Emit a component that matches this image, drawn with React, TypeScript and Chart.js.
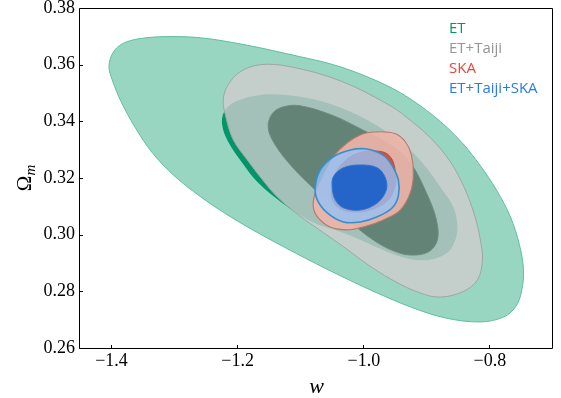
import React, { useEffect, useRef } from 'react';
import { Chart, registerables } from 'chart.js';

Chart.register(...registerables);

// ---- axes ----
const X_RANGE = [-1.45, -0.7];
const Y_RANGE = [0.26, 0.38];
const X_TICKS = [-1.4, -1.2, -1.0, -0.8];
const Y_TICKS = [0.26, 0.28, 0.3, 0.32, 0.34, 0.36, 0.38];

// ---- legend ----
const LEGEND_LABELS = ['ET', 'ET+Taiji', 'SKA', 'ET+Taiji+SKA'];
const LEGEND_COLORS = ['#009966', '#959595', '#E5483A', '#2A7BE4'];

// ---- contours (w, Omega_m) ----
const ET_OUTER_W = [-1.3151, -1.2595, -1.1881, -1.1008, -1.0484, -0.9944, -0.9421, -0.8897, -0.8468, -0.8151, -0.7897, -0.7675, -0.7532, -0.7468, -0.75, -0.7595, -0.7786, -0.8151, -0.8706, -0.9262, -0.9786, -1.0214, -1.077, -1.1294, -1.1802, -1.2198, -1.2595, -1.2992, -1.3357, -1.3627, -1.3849, -1.3992, -1.404, -1.4008, -1.3913, -1.3754, -1.3516];
const ET_OUTER_OM = [0.3699, 0.3695, 0.367, 0.3628, 0.36, 0.3557, 0.3501, 0.342, 0.3331, 0.3243, 0.3158, 0.3063, 0.2964, 0.2876, 0.2798, 0.2745, 0.2709, 0.2692, 0.2706, 0.2745, 0.2794, 0.2838, 0.2899, 0.296, 0.3022, 0.3075, 0.3135, 0.3205, 0.329, 0.3379, 0.347, 0.3548, 0.3589, 0.3628, 0.366, 0.3681, 0.3693];

const ET_INNER_W = [-1.1611, -1.1008, -1.0484, -0.9944, -0.9421, -0.9071, -0.8754, -0.8579, -0.8516, -0.8548, -0.8675, -0.8976, -0.9341, -0.977, -1.0087, -1.0373, -1.0817, -1.1294, -1.1675, -1.1929, -1.2151, -1.2246, -1.2214, -1.204];
const ET_INNER_OM = [0.3494, 0.3487, 0.3458, 0.3405, 0.3328, 0.3254, 0.3158, 0.3098, 0.3034, 0.2981, 0.2936, 0.2911, 0.2918, 0.2953, 0.2985, 0.301, 0.3045, 0.3112, 0.3183, 0.3254, 0.3328, 0.3388, 0.3434, 0.3469];

const ETT_OUTER_W = [-1.1643, -1.1167, -1.0373, -0.9579, -0.923, -0.8913, -0.8627, -0.8405, -0.8246, -0.8151, -0.8119, -0.8198, -0.8437, -0.8833, -0.923, -0.9579, -0.9929, -1.0294, -1.0659, -1.104, -1.1357, -1.1579, -1.1849, -1.2071, -1.2183, -1.223, -1.2151, -1.196];
const ETT_OUTER_OM = [0.36, 0.3593, 0.3543, 0.3455, 0.3398, 0.3335, 0.3257, 0.3165, 0.307, 0.2981, 0.2911, 0.284, 0.2798, 0.278, 0.2805, 0.2844, 0.2893, 0.2953, 0.301, 0.307, 0.313, 0.3186, 0.3264, 0.3335, 0.3412, 0.3476, 0.3529, 0.3575];

const ETT_INNER_W = [-1.1008, -1.0484, -1.0056, -0.9579, -0.9262, -0.8992, -0.8849, -0.8833, -0.8976, -0.9262, -0.9532, -0.9849, -1.0214, -1.0452, -1.077, -1.1135, -1.1405, -1.1516, -1.1452, -1.1278];
const ETT_INNER_OM = [0.3455, 0.342, 0.3374, 0.3317, 0.3254, 0.314, 0.3052, 0.2981, 0.2939, 0.2928, 0.2943, 0.2981, 0.3045, 0.3098, 0.3158, 0.3239, 0.3317, 0.3377, 0.3427, 0.3451];

const SKA_OUTER_W = [-0.9738, -0.95, -0.9341, -0.9246, -0.9214, -0.9262, -0.9421, -0.969, -1.0008, -1.0262, -1.0532, -1.0722, -1.0802, -1.077, -1.0659, -1.0484, -1.0262, -1.0008];
const SKA_OUTER_OM = [0.3363, 0.3356, 0.3328, 0.3282, 0.3211, 0.3148, 0.3087, 0.3052, 0.3027, 0.3017, 0.3027, 0.3059, 0.3098, 0.3148, 0.3204, 0.3275, 0.3324, 0.3356];

const SKA_INNER_W = [-0.9865, -0.9659, -0.9548, -0.95, -0.95, -0.9611, -0.9849, -1.0103, -1.0373, -1.05, -1.05, -1.0421, -1.0214, -1.0024];
const SKA_INNER_OM = [0.3296, 0.3289, 0.3264, 0.3222, 0.3176, 0.3123, 0.3091, 0.308, 0.3091, 0.3126, 0.3176, 0.3229, 0.3275, 0.3292];

const ALL_OUTER_W = [-0.9976, -0.9786, -0.9659, -0.9548, -0.9452, -0.9452, -0.9548, -0.9786, -1.0056, -1.0325, -1.0579, -1.0738, -1.077, -1.069, -1.0484, -1.0214];
const ALL_OUTER_OM = [0.3303, 0.3292, 0.3275, 0.3243, 0.3193, 0.3137, 0.3095, 0.3063, 0.3045, 0.3045, 0.3077, 0.3123, 0.3169, 0.3229, 0.3275, 0.3299];

const ALL_INNER_W = [-1.0056, -0.9786, -0.9659, -0.9643, -0.9786, -1.0056, -1.0325, -1.0452, -1.05, -1.0484, -1.0325];
const ALL_INNER_OM = [0.3246, 0.3236, 0.3201, 0.3158, 0.3112, 0.3087, 0.3095, 0.3123, 0.3165, 0.3204, 0.3236];

const zip = (w: number[], om: number[]) => w.map((x, i) => ({ x, y: om[i] }));

function contour(label: string, w: number[], om: number[], fillColor: string, edge: string, edgeWidth: number, order: number) {
  return {
    label,
    data: zip(w, om),
    backgroundColor: fillColor,
    borderColor: edge,
    borderWidth: edgeWidth,
    fill: 'shape',
    tension: 0.35,
    pointRadius: 0,
    pointHoverRadius: 0,
    order,
  };
}

// closes every contour smoothly (last point joins the first one)
const closedLoopPlugin = {
  id: 'closedLoop',
  afterDatasetsUpdate(chart: any) {
    chart.data.datasets.forEach((_: any, i: number) => {
      const line = chart.getDatasetMeta(i).dataset;
      if (line) {
        line._loop = true;
        line._fullLoop = true;
        line._pointsUpdated = false;
        delete line._segments;
        delete line._path;
      }
    });
  },
};

const decorPlugin = {
  id: 'decor',
  afterDraw(chart: any) {
    const { ctx, chartArea: a, scales } = chart;
    ctx.save();
    // frame
    const L = a.left - 0.5, R = a.right - 0.5, T = a.top + 0.5, B = a.bottom + 0.5;
    ctx.strokeStyle = '#000';
    ctx.lineWidth = 1;
    ctx.beginPath();
    ctx.rect(L, T, R - L, B - T);
    ctx.stroke();
    // inward ticks
    ctx.beginPath();
    scales.x.ticks.forEach((t: any) => {
      const px = Math.round(scales.x.getPixelForValue(t.value)) - 0.5;
      ctx.moveTo(px, B);
      ctx.lineTo(px, B - 3.5);
    });
    scales.y.ticks.forEach((t: any) => {
      const py = Math.round(scales.y.getPixelForValue(t.value)) + 0.5;
      ctx.moveTo(L, py);
      ctx.lineTo(L + 3.5, py);
    });
    ctx.stroke();

    // x title
    ctx.fillStyle = '#000';
    ctx.textBaseline = 'alphabetic';
    ctx.textAlign = 'center';
    ctx.font = 'italic 22px "Liberation Serif"';
    ctx.fillText('w', (a.left + a.right) / 2, 393);

    // y title (Omega_m), rotated
    ctx.save();
    ctx.translate(31, (a.top + a.bottom) / 2);
    ctx.rotate(-Math.PI / 2);
    ctx.textAlign = 'left';
    ctx.font = '21px "Liberation Serif"';
    const wO = ctx.measureText('Ω').width;
    ctx.font = 'italic 15px "Liberation Serif"';
    const wm = ctx.measureText('m').width;
    const start = -(wO + wm) / 2;
    ctx.font = '21px "Liberation Serif"';
    ctx.fillText('Ω', start, 0);
    ctx.font = 'italic 15px "Liberation Serif"';
    ctx.fillText('m', start + wO, 4);
    ctx.restore();

    // legend (text only)
    ctx.textAlign = 'left';
    ctx.font = '15px "Open Sans"';
    LEGEND_LABELS.forEach((lab, i) => {
      ctx.fillStyle = LEGEND_COLORS[i];
      ctx.fillText(lab, 449, 32.7 + i * 20.1);
    });
    ctx.restore();
  },
};

export default function App() {
  const ref = useRef<HTMLCanvasElement | null>(null);

  useEffect(() => {
    if (!ref.current) return;
    const datasets = [
      contour('ET', ET_OUTER_W, ET_OUTER_OM, '#98D6C1', 'rgba(95,192,155,1)', 1, 8),
      contour('ET', ET_INNER_W, ET_INNER_OM, '#00966A', 'rgba(0,150,106,1)', 0, 7),
      contour('ET+Taiji', ETT_OUTER_W, ETT_OUTER_OM, 'rgba(209,205,206,0.78)', 'rgba(160,166,163,1)', 1, 6),
      contour('ET+Taiji', ETT_INNER_W, ETT_INNER_OM, '#628376', 'rgba(112,140,128,1)', 1, 5),
      contour('SKA', SKA_OUTER_W, SKA_OUTER_OM, 'rgba(240,180,170,0.9)', 'rgba(178,122,102,1)', 1.1, 4),
      contour('SKA', SKA_INNER_W, SKA_INNER_OM, 'rgba(208,76,56,0.95)', 'rgba(180,70,50,1)', 0.8, 3),
      contour('ET+Taiji+SKA', ALL_OUTER_W, ALL_OUTER_OM, 'rgba(148,194,247,0.79)', 'rgba(55,142,205,1)', 1.6, 2),
      contour('ET+Taiji+SKA', ALL_INNER_W, ALL_INNER_OM, '#2564C8', 'rgba(45,118,212,1)', 1, 1),
    ];

    const chart = new Chart(ref.current, {
      type: 'line',
      data: { datasets: datasets as any },
      options: {
        animation: false,
        responsive: false,
        devicePixelRatio: 1,
        events: [],
        layout: { padding: { top: 8, right: 8, left: 0, bottom: 0 } },
        plugins: { legend: { display: false }, tooltip: { enabled: false } },
        scales: {
          x: {
            type: 'linear',
            min: X_RANGE[0],
            max: X_RANGE[1],
            grid: { display: false, drawTicks: false },
            border: { display: false },
            afterBuildTicks: (s: any) => { s.ticks = X_TICKS.map((value) => ({ value })); },
            afterFit: (s: any) => { s.height = 50; s.paddingLeft = 0; s.paddingRight = 0; },
            ticks: {
              padding: 2,
              color: '#000',
              font: { family: '"Liberation Serif"', size: 18 },
              callback: (v: any) => (Number(v) < 0 ? '\u2212' : '') + Math.abs(Number(v)).toFixed(1),
            },
          },
          y: {
            type: 'linear',
            min: Y_RANGE[0],
            max: Y_RANGE[1],
            grid: { display: false, drawTicks: false },
            border: { display: false },
            afterBuildTicks: (s: any) => { s.ticks = Y_TICKS.map((value) => ({ value })); },
            afterFit: (s: any) => { s.width = 80; s.paddingTop = 0; s.paddingBottom = 0; },
            ticks: {
              padding: 5,
              color: '#000',
              font: { family: '"Liberation Serif"', size: 18 },
              callback: (v: any) => Number(v).toFixed(2),
            },
          },
        },
      },
      plugins: [closedLoopPlugin, decorPlugin],
    } as any);

    return () => chart.destroy();
  }, []);

  return (
    <div style={{ position: 'fixed', left: 0, top: 0, width: 561, height: 398, background: '#fff' }}>
      <canvas ref={ref} width={561} height={398} style={{ display: 'block', width: 561, height: 398 }} />
    </div>
  );
}
